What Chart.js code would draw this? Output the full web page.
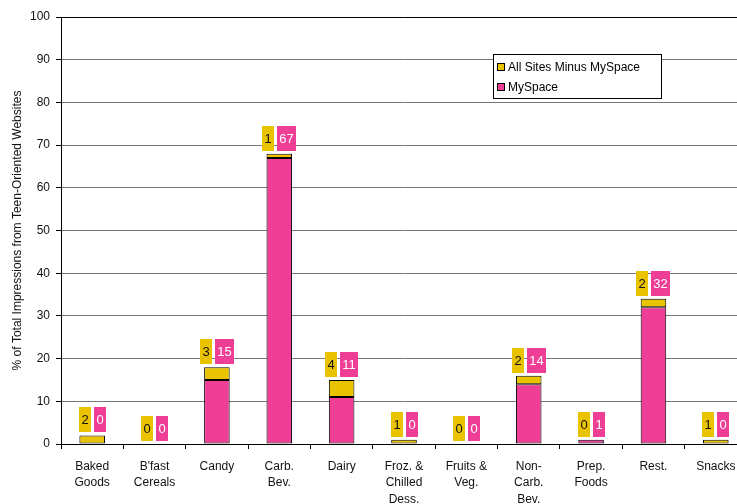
<!DOCTYPE html>
<html>
<head>
<meta charset="utf-8">
<script src="https://cdn.jsdelivr.net/npm/chart.js@4.4.0/dist/chart.umd.min.js"></script>
<style>
    html, body { margin: 0; padding: 0; background: #fff; overflow: hidden; }
    #wrap { width: 737px; height: 504px; overflow: hidden; }
    #wrap canvas { display: block; }
</style>
</head>
<body>
<div id="wrap"><canvas id="impressionsChart" width="747" height="504"></canvas></div>
<script>
const categories = [
    ['Baked', 'Goods'], ["B'fast", 'Cereals'], ['Candy'], ['Carb.', 'Bev.'], ['Dairy'],
    ['Froz. &', 'Chilled', 'Dess.'], ['Fruits &', 'Veg.'], ['Non-', 'Carb.', 'Bev.'],
    ['Prep.', 'Foods'], ['Rest.'], ['Snacks']
];
const mySpace = [0, 0, 15, 67, 11, 0, 0, 14, 1, 32, 0];
const allSitesMinusMySpace = [2, 0, 3, 1, 4, 1, 0, 2, 0, 2, 1];
const yTicks = [0, 10, 20, 30, 40, 50, 60, 70, 80, 90, 100];

const YELLOW = '#EAC300';
const PINK = '#EE3E96';
const FONT = 'Arial, "Liberation Sans", sans-serif';

// value boxes above each stacked bar
const valueBoxes = {
    id: 'valueBoxes',
    afterDatasetsDraw(chart) {
        const ctx = chart.ctx;
        const x = chart.scales.x, y = chart.scales.y;
        ctx.save();
        ctx.font = '13px ' + FONT;
        ctx.textBaseline = 'middle';
        ctx.textAlign = 'center';
        categories.forEach((c, i) => {
            const cx = x.getPixelForValue(i);
            const top = y.getPixelForValue(mySpace[i] + allSitesMinusMySpace[i]);
            const t1 = String(allSitesMinusMySpace[i]);
            const t2 = String(mySpace[i]);
            const w1 = Math.round(ctx.measureText(t1).width) + 5;
            const w2 = Math.round(ctx.measureText(t2).width) + 5;
            const gap = 3, h = 25;
            const left = Math.round(cx - (w1 + gap + w2) / 2);
            const bottom = Math.min(Math.round(top) - 3, y.bottom - 2);
            ctx.fillStyle = YELLOW;
            ctx.fillRect(left, bottom - h, w1, h);
            ctx.fillStyle = PINK;
            ctx.fillRect(left + w1 + gap, bottom - h, w2, h);
            ctx.fillStyle = '#111';
            ctx.fillText(t1, left + w1 / 2, bottom - h / 2 + 1);
            ctx.fillStyle = '#fff';
            ctx.fillText(t2, left + w1 + gap + w2 / 2, bottom - h / 2 + 1);
        });
        ctx.restore();
    }
};

// boxed legend inside the plot, upper right
const boxLegend = {
    id: 'boxLegend',
    afterDraw(chart) {
        const ctx = chart.ctx;
        const items = [
            { label: 'All Sites Minus MySpace', color: YELLOW },
            { label: 'MySpace', color: PINK }
        ];
        const bx = 493, by = 54, bw = 168, bh = 44;
        ctx.save();
        ctx.fillStyle = '#fff';
        ctx.fillRect(bx, by, bw, bh);
        ctx.strokeStyle = '#000';
        ctx.lineWidth = 1;
        ctx.strokeRect(bx + 0.5, by + 0.5, bw, bh);
        ctx.font = '12px ' + FONT;
        ctx.textBaseline = 'middle';
        ctx.textAlign = 'left';
        items.forEach((it, k) => {
            const cy = by + 13 + k * 20;
            ctx.fillStyle = it.color;
            ctx.fillRect(bx + 4, cy - 4, 8, 8);
            ctx.strokeStyle = '#000';
            ctx.strokeRect(bx + 4.5, cy - 3.5, 7, 7);
            ctx.fillStyle = '#000';
            ctx.fillText(it.label, bx + 15, cy + 1);
        });
        ctx.restore();
    }
};

const ctx = document.getElementById('impressionsChart').getContext('2d');
new Chart(ctx, {
    type: 'bar',
    data: {
        labels: categories,
        datasets: [
            {
                label: 'MySpace',
                data: mySpace,
                backgroundColor: PINK,
                borderColor: '#000',
                borderWidth: 1,
                borderSkipped: false,
                categoryPercentage: 1,
                barPercentage: 0.41
            },
            {
                label: 'All Sites Minus MySpace',
                data: allSitesMinusMySpace,
                backgroundColor: YELLOW,
                borderColor: '#000',
                borderWidth: 1,
                borderSkipped: false,
                categoryPercentage: 1,
                barPercentage: 0.41
            }
        ]
    },
    options: {
        responsive: false,
        animation: false,
        layout: { padding: { top: 17, right: 0, left: 10, bottom: 0 } },
        plugins: {
            legend: { display: false },
            tooltip: { enabled: false }
        },
        scales: {
            x: {
                stacked: true,
                offset: true,
                grid: {
                    offset: true,
                    drawOnChartArea: false,
                    color: '#000',
                    tickLength: 5
                },
                border: { color: '#000' },
                ticks: {
                    color: '#111',
                    font: { family: FONT, size: 12, lineHeight: 1.34 },
                    maxRotation: 0,
                    autoSkip: false,
                    padding: 10
                },
                afterFit(scale) { scale.height = 60; }
            },
            y: {
                stacked: true,
                min: 0,
                max: 100,
                afterBuildTicks(scale) { scale.ticks = yTicks.map(v => ({ value: v })); },
                grid: {
                    color: (c) => c.tick && c.tick.value === 100 ? '#000' : '#777',
                    tickColor: '#000',
                    tickLength: 5
                },
                border: { color: '#000' },
                ticks: {
                    color: '#111',
                    font: { family: FONT, size: 12 },
                    padding: 6
                },
                title: {
                    display: true,
                    text: '% of Total Impressions from Teen-Oriented Websites',
                    color: '#111',
                    font: { family: FONT, size: 12 },
                    padding: { top: 0, bottom: 4 }
                },
                afterFit(scale) { scale.width = 51; }
            }
        }
    },
    plugins: [valueBoxes, boxLegend]
});
</script>
</body>
</html>
